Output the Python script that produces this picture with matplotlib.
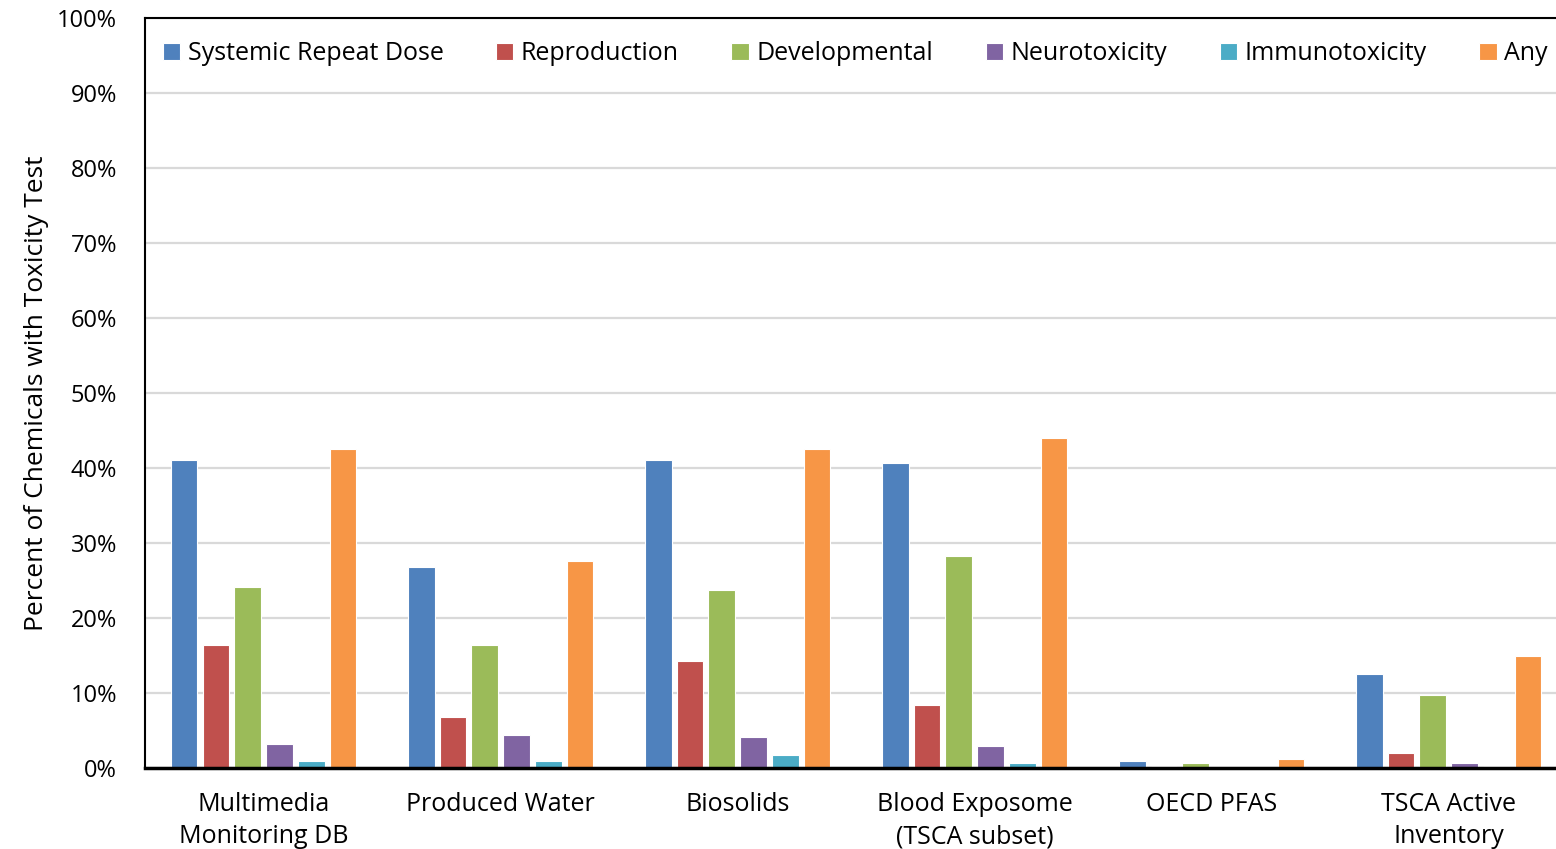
import numpy as np
import matplotlib
matplotlib.use('Agg')
import matplotlib.pyplot as plt
from matplotlib.ticker import PercentFormatter

plt.rcParams['font.family'] = ['Open Sans', 'DejaVu Sans']

categories = ['Multimedia\nMonitoring DB', 'Produced Water', 'Biosolids',
              'Blood Exposome\n(TSCA subset)', 'OECD PFAS', 'TSCA Active\nInventory']
series = ['Systemic Repeat Dose', 'Reproduction', 'Developmental',
          'Neurotoxicity', 'Immunotoxicity', 'Any']
colors = ['#4F81BD', '#C0504D', '#9BBB59', '#8064A2', '#4BACC6', '#F79646']

systemic = [41.1, 26.8, 41.1, 40.7, 0.9, 12.5]
reproduction = [16.4, 6.8, 14.3, 8.4, 0.3, 2.0]
developmental = [24.1, 16.4, 23.7, 28.3, 0.7, 9.7]
neurotox = [3.2, 4.4, 4.1, 2.9, 0.0, 0.7]
immunotox = [0.9, 0.9, 1.7, 0.7, 0.0, 0.3]
any_test = [42.5, 27.6, 42.5, 44.0, 1.2, 14.9]

values = [systemic, reproduction, developmental, neurotox, immunotox, any_test]

fig = plt.figure(figsize=(15.56, 8.49), dpi=100)
# right edge of the axes runs a bit past the image, like the original
ax = fig.add_axes([0.0932, 0.0954, 0.914, 0.8834])

x = np.arange(len(categories))
pitch = 0.134
for i, (name, vals) in enumerate(zip(series, values)):
    ax.bar(x + (i - 2.5) * pitch, vals, width=pitch * 0.84, color=colors[i],
           edgecolor='white', linewidth=0.8, label=name, zorder=2)

ax.set_xlim(-0.5, len(categories) - 0.5)
ax.set_ylim(0, 100)
ax.set_yticks(np.arange(0, 101, 10))
ax.yaxis.set_major_formatter(PercentFormatter(decimals=0))
ax.set_axisbelow(True)
ax.grid(axis='y', color='#d9d9d9', linewidth=1.6)
ax.set_xticks(x)
ax.set_xticklabels(categories, fontsize=18, linespacing=1.4)
ax.tick_params(axis='both', length=0)
ax.tick_params(axis='y', labelsize=17, pad=20)
ax.tick_params(axis='x', pad=17)

ax.spines['right'].set_visible(False)
ax.spines['left'].set_linewidth(1.5)
ax.spines['top'].set_linewidth(1.5)
ax.spines['bottom'].set_linewidth(2.5)
ax.spines['bottom'].set_zorder(4)

ax.set_ylabel('Percent of Chemicals with Toxicity Test', fontsize=19, labelpad=6)

ax.legend(loc='upper left', bbox_to_anchor=(0.0, 0.992), ncol=6, frameon=False,
          fontsize=18, handlelength=0.7, handleheight=0.7, handletextpad=0.3,
          columnspacing=2.1, borderaxespad=0.3)

plt.savefig('out.png', dpi=100)
